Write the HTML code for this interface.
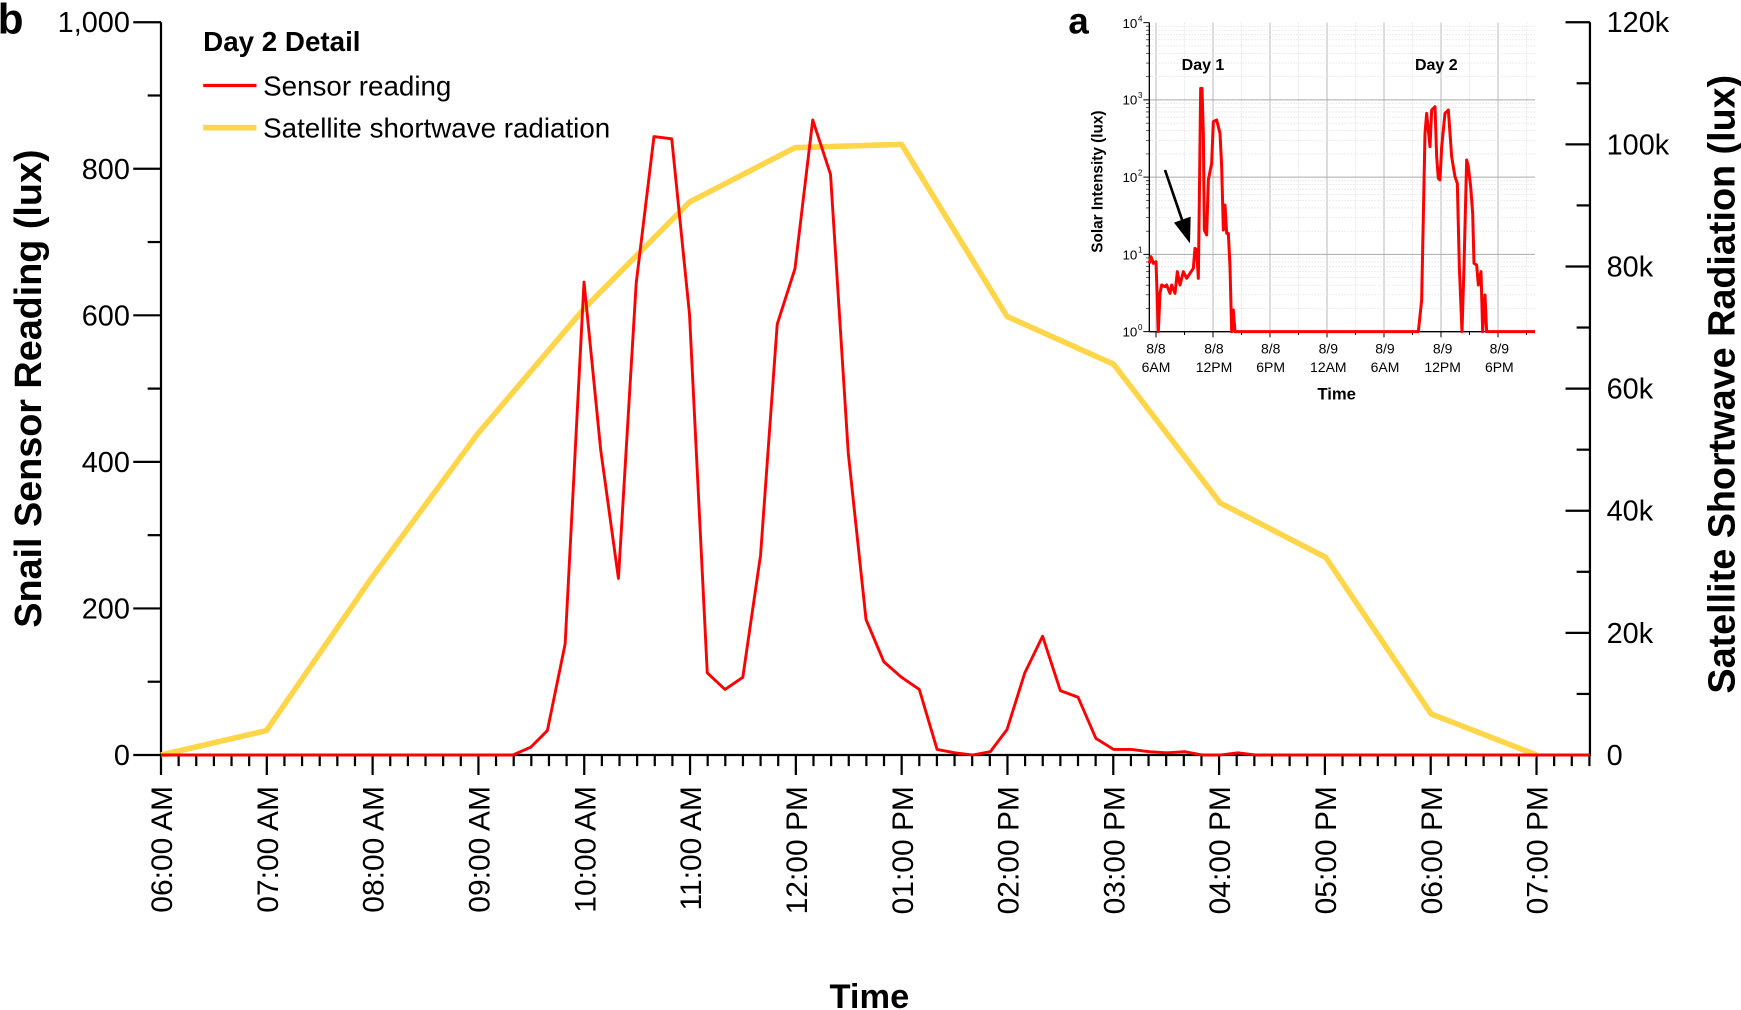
<!DOCTYPE html>
<html><head><meta charset="utf-8"><style>html,body{margin:0;padding:0;background:#fff}svg{display:block}text{font-family:"Liberation Sans",Arial,sans-serif}</style></head>
<body>
<svg width="1741" height="1010" viewBox="0 0 1741 1010" xmlns="http://www.w3.org/2000/svg">
<g transform="scale(1.1103)">
<line x1="145" y1="20" x2="145" y2="681" stroke="#000" stroke-width="2"/>
<line x1="1432" y1="20" x2="1432" y2="681" stroke="#000" stroke-width="2"/>
<line x1="145" y1="680" x2="1432" y2="680" stroke="#000" stroke-width="2"/>
<g stroke="#000" stroke-width="2">
<line x1="120" y1="20" x2="145" y2="20"/><line x1="120" y1="152" x2="145" y2="152"/><line x1="120" y1="284" x2="145" y2="284"/><line x1="120" y1="416" x2="145" y2="416"/><line x1="120" y1="548" x2="145" y2="548"/><line x1="120" y1="680" x2="145" y2="680"/>
<line x1="133" y1="86" x2="145" y2="86"/><line x1="133" y1="218" x2="145" y2="218"/><line x1="133" y1="350" x2="145" y2="350"/><line x1="133" y1="482" x2="145" y2="482"/><line x1="133" y1="614" x2="145" y2="614"/>
<line x1="1410" y1="20" x2="1432" y2="20"/><line x1="1410" y1="130" x2="1432" y2="130"/><line x1="1410" y1="240" x2="1432" y2="240"/><line x1="1410" y1="350" x2="1432" y2="350"/><line x1="1410" y1="460" x2="1432" y2="460"/><line x1="1410" y1="570" x2="1432" y2="570"/><line x1="1410" y1="680" x2="1432" y2="680"/>
<line x1="1420" y1="75" x2="1432" y2="75"/><line x1="1420" y1="185" x2="1432" y2="185"/><line x1="1420" y1="295" x2="1432" y2="295"/><line x1="1420" y1="405" x2="1432" y2="405"/><line x1="1420" y1="515" x2="1432" y2="515"/><line x1="1420" y1="625" x2="1432" y2="625"/>
</g>
<path fill="none" stroke="#000" stroke-width="2" d="M145,680
v18 m15.883,-18 v10 m15.883,-10 v10 m15.883,-10 v10 m15.883,-10 v10 m15.883,-10 v10 m15.883,-10
v18 m15.883,-18 v10 m15.883,-10 v10 m15.883,-10 v10 m15.883,-10 v10 m15.883,-10 v10 m15.883,-10
v18 m15.883,-18 v10 m15.883,-10 v10 m15.883,-10 v10 m15.883,-10 v10 m15.883,-10 v10 m15.883,-10
v18 m15.883,-18 v10 m15.883,-10 v10 m15.883,-10 v10 m15.883,-10 v10 m15.883,-10 v10 m15.883,-10
v18 m15.883,-18 v10 m15.883,-10 v10 m15.883,-10 v10 m15.883,-10 v10 m15.883,-10 v10 m15.883,-10
v18 m15.883,-18 v10 m15.883,-10 v10 m15.883,-10 v10 m15.883,-10 v10 m15.883,-10 v10 m15.883,-10
v18 m15.883,-18 v10 m15.883,-10 v10 m15.883,-10 v10 m15.883,-10 v10 m15.883,-10 v10 m15.883,-10
v18 m15.883,-18 v10 m15.883,-10 v10 m15.883,-10 v10 m15.883,-10 v10 m15.883,-10 v10 m15.883,-10
v18 m15.883,-18 v10 m15.883,-10 v10 m15.883,-10 v10 m15.883,-10 v10 m15.883,-10 v10 m15.883,-10
v18 m15.883,-18 v10 m15.883,-10 v10 m15.883,-10 v10 m15.883,-10 v10 m15.883,-10 v10 m15.883,-10
v18 m15.883,-18 v10 m15.883,-10 v10 m15.883,-10 v10 m15.883,-10 v10 m15.883,-10 v10 m15.883,-10
v18 m15.883,-18 v10 m15.883,-10 v10 m15.883,-10 v10 m15.883,-10 v10 m15.883,-10 v10 m15.883,-10
v18 m15.883,-18 v10 m15.883,-10 v10 m15.883,-10 v10 m15.883,-10 v10 m15.883,-10 v10 m15.883,-10
v18 m15.883,-18 v10 m15.883,-10 v10 m15.883,-10 v10"/>
<g font-size="26" text-anchor="end">
<text x="117" y="29">1,000</text><text x="117" y="161">800</text><text x="117" y="293">600</text><text x="117" y="425">400</text><text x="117" y="557">200</text><text x="117" y="689">0</text>
</g>
<g font-size="26" text-anchor="start">
<text x="1447" y="29">120k</text><text x="1447" y="139">100k</text><text x="1447" y="249">80k</text><text x="1447" y="359">60k</text><text x="1447" y="469">40k</text><text x="1447" y="579">20k</text><text x="1447" y="689">0</text>
</g>
<g font-size="27" text-anchor="end">
<text transform="translate(155,708) rotate(-90)">06:00 AM</text>
<text transform="translate(250.3,708) rotate(-90)">07:00 AM</text>
<text transform="translate(345.6,708) rotate(-90)">08:00 AM</text>
<text transform="translate(440.9,708) rotate(-90)">09:00 AM</text>
<text transform="translate(536.2,708) rotate(-90)">10:00 AM</text>
<text transform="translate(631.5,708) rotate(-90)">11:00 AM</text>
<text transform="translate(726.8,708) rotate(-90)">12:00 PM</text>
<text transform="translate(822.1,708) rotate(-90)">01:00 PM</text>
<text transform="translate(917.4,708) rotate(-90)">02:00 PM</text>
<text transform="translate(1012.7,708) rotate(-90)">03:00 PM</text>
<text transform="translate(1108,708) rotate(-90)">04:00 PM</text>
<text transform="translate(1203.3,708) rotate(-90)">05:00 PM</text>
<text transform="translate(1298.6,708) rotate(-90)">06:00 PM</text>
<text transform="translate(1393.9,708) rotate(-90)">07:00 PM</text>
</g>
<text font-size="34" font-weight="bold" text-anchor="middle" transform="translate(37,350) rotate(-90)">Snail Sensor Reading (lux)</text>
<text font-size="34" font-weight="bold" text-anchor="middle" transform="translate(1562,346) rotate(-90)">Satellite Shortwave Radiation (lux)</text>
<text x="783" y="908" font-size="31" font-weight="bold" text-anchor="middle">Time</text>
<text x="-2" y="30" font-size="38" font-weight="bold">b</text>
<polyline fill="none" stroke="#ffd54a" stroke-width="5" stroke-linejoin="round" points="145,680 240,658 335,520 430,391 526,278 621,182 716,133 812,130 907,285 1003,328 1099,453 1194,502 1289,643 1384,680"/>
<polyline fill="none" stroke="#f00" stroke-width="2.6" stroke-linejoin="round" points="145,680 462,680 478,673 493,658 509,580 526,254 541,405 557,521 573,255 589,123 605,125 621,283 637,606 653,621 669,610 685,500 700,292 716,242 732,108 748,157 764,408 780,558 796,596 812,610 828,621 844,675 860,678 876,680 892,677 907,657 923,606 939,573 955,622 971,628 987,665 1003,675 1019,675 1035,677 1051,678 1067,677 1083,680 1099,680 1115,678 1131,680 1432,680"/>
<text x="183" y="46" font-size="25" font-weight="bold">Day 2 Detail</text>
<line x1="183" y1="77" x2="231" y2="77" stroke="#f00" stroke-width="3"/>
<text x="237" y="86" font-size="25">Sensor reading</text>
<line x1="183" y1="115" x2="231" y2="115" stroke="#ffd54a" stroke-width="5"/>
<text x="237" y="124" font-size="25">Satellite shortwave radiation</text>
</g>
<g transform="translate(1050,0) scale(0.33333)">
<rect x="298" y="68" width="1157" height="927" fill="#fff"/>
<path fill="none" stroke="#ddd" stroke-width="2" stroke-dasharray="5,4" d="M403.5,68V995M574.5,68V995M745.5,68V995M916.5,68V995M1087.5,68V995M1258.5,68V995M1429.5,68V995"/>
<path fill="none" stroke="#b8b8b8" stroke-width="3" d="M318,68V995M489,68V995M660,68V995M831,68V995M1002,68V995M1173,68V995M1344,68V995"/>
<path fill="none" stroke="#ddd" stroke-width="2" stroke-dasharray="5,4" d="M298,925.2h1157M298,884.4h1157M298,855.5h1157M298,833h1157M298,814.7h1157M298,799.2h1157M298,785.7h1157M298,773.9h1157
M298,693.5h1157M298,652.7h1157M298,623.8h1157M298,601.3h1157M298,582.9h1157M298,567.5h1157M298,554h1157M298,542.2h1157
M298,461.7h1157M298,420.9h1157M298,392h1157M298,369.5h1157M298,351.2h1157M298,335.7h1157M298,322.2h1157M298,310.4h1157
M298,230h1157M298,189.1h1157M298,160.3h1157M298,137.7h1157M298,119.4h1157M298,104h1157M298,90.5h1157M298,78.6h1157"/>
<path fill="none" stroke="#000" stroke-width="2" d="M288,925.2h10M288,884.4h10M288,855.5h10M288,833h10M288,814.7h10M288,799.2h10M288,785.7h10M288,773.9h10
M288,693.5h10M288,652.7h10M288,623.8h10M288,601.3h10M288,582.9h10M288,567.5h10M288,554h10M288,542.2h10
M288,461.7h10M288,420.9h10M288,392h10M288,369.5h10M288,351.2h10M288,335.7h10M288,322.2h10M288,310.4h10
M288,230h10M288,189.1h10M288,160.3h10M288,137.7h10M288,119.4h10M288,104h10M288,90.5h10M288,78.6h10"/>
<path fill="none" stroke="#aaa" stroke-width="3" d="M298,763.25h1157M298,531.5h1157M298,299.75h1157"/>
<path fill="none" stroke="#000" stroke-width="3" d="M280,995h18M280,763.25h18M280,531.5h18M280,299.75h18M280,68h18
M318,995v17M489,995v17M660,995v17M831,995v17M1002,995v17M1173,995v17M1344,995v17
M403.5,995v10M574.5,995v10M745.5,995v10M916.5,995v10M1087.5,995v10M1258.5,995v10M1429.5,995v10"/>
<line x1="298" y1="68" x2="298" y2="995" stroke="#000" stroke-width="4"/>
<line x1="298" y1="995" x2="1455" y2="995" stroke="#000" stroke-width="4"/>
<g font-size="40" text-anchor="end">
<text x="262" y="1010">10</text><text x="262" y="778">10</text><text x="262" y="546">10</text><text x="262" y="314">10</text><text x="262" y="84">10</text>
</g>
<g font-size="24">
<text x="264" y="990">0</text><text x="264" y="758">1</text><text x="264" y="526">2</text><text x="264" y="294">3</text><text x="264" y="64">4</text>
</g>
<g font-size="42" text-anchor="middle">
<text x="318" y="1060">8/8</text><text x="318" y="1116">6AM</text>
<text x="492" y="1060">8/8</text><text x="492" y="1116">12PM</text>
<text x="662" y="1060">8/8</text><text x="662" y="1116">6PM</text>
<text x="835" y="1060">8/9</text><text x="835" y="1116">12AM</text>
<text x="1005" y="1060">8/9</text><text x="1005" y="1116">6AM</text>
<text x="1178" y="1060">8/9</text><text x="1178" y="1116">12PM</text>
<text x="1348" y="1060">8/9</text><text x="1348" y="1116">6PM</text>
</g>
<text x="860" y="1198" font-size="50" font-weight="bold" text-anchor="middle">Time</text>
<text font-size="46" font-weight="bold" text-anchor="middle" transform="translate(158,545) rotate(-90)">Solar Intensity (lux)</text>
<text x="395" y="210" font-size="48" font-weight="bold">Day 1</text>
<text x="1095" y="210" font-size="48" font-weight="bold">Day 2</text>
<text x="55" y="100" font-size="110" font-weight="bold">a</text>
<line x1="345" y1="510" x2="398" y2="665" stroke="#000" stroke-width="8"/>
<polygon points="372,668 422,650 420,730" fill="#000"/>
<polyline fill="none" stroke="#f00" stroke-width="9" stroke-linejoin="round" points="298,790 303,770 310,790 318,785 325,995 330,880 335,855 345,860 350,855 360,880 365,855 375,880 382,815 390,855 400,815 410,835 420,820 430,805 435,745 440,750 445,835 448,600 452,265 456,265 460,400 463,690 470,705 475,540 485,490 490,365 500,360 510,400 515,500 520,690 525,615 530,700 535,700 540,800 545,995 550,930 555,995 565,995 1105,995 1115,900 1125,400 1130,340 1140,440 1145,330 1155,320 1160,470 1165,535 1170,540 1175,440 1185,340 1195,330 1205,470 1215,530 1222,550 1228,800 1236,995 1242,800 1250,480 1255,500 1262,560 1268,640 1272,790 1280,795 1285,855 1293,815 1298,995 1305,885 1310,995 1455,995"/>
</g>
</svg>
</body></html>
